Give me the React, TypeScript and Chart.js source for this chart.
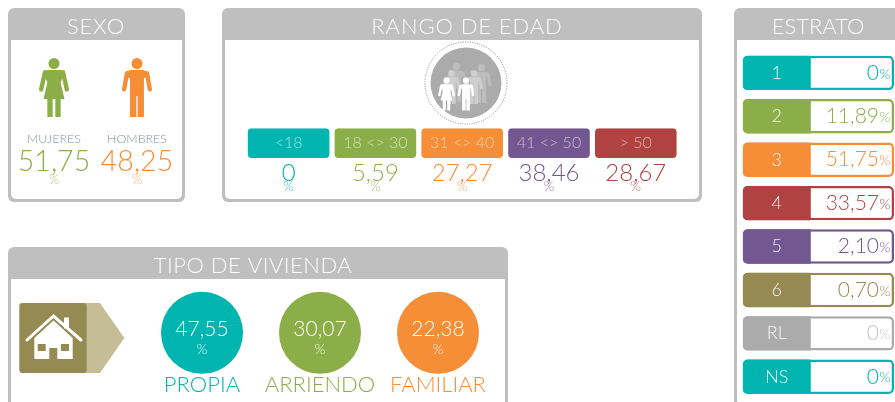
import React, { useEffect, useRef } from "react";
import { Chart, registerables } from "chart.js";

Chart.register(...registerables);

// ---------- data ----------
const sexCategories = ["MUJERES", "HOMBRES"];
const sexValues = [51.75, 48.25];
const ageCategories = ["<18", "18 <> 30", "31 <> 40", "41 <> 50", "> 50"];
const ageValues = [0, 5.59, 27.27, 38.46, 28.67];
const stratumCategories = ["1", "2", "3", "4", "5", "6", "RL", "NS"];
const stratumValues = [0, 11.89, 51.75, 33.57, 2.1, 0.7, 0, 0];
const housingCategories = ["PROPIA", "ARRIENDO", "FAMILIAR"];
const housingValues = [47.55, 30.07, 22.38];

// ---------- style ----------
const TEAL = "#00b5b0";
const GREEN = "#8cae48";
const ORANGE = "#f68e37";
const RED = "#b04241";
const PURPLE = "#725790";
const OLIVE = "#958a52";
const GREY = "#ababab";
const sexColors = [GREEN, ORANGE];
const ageColors = [TEAL, GREEN, ORANGE, PURPLE, RED];
const stratumColors = [TEAL, GREEN, ORANGE, RED, PURPLE, OLIVE, GREY, TEAL];
const housingColors = [TEAL, GREEN, ORANGE];
const stratumValueColors = [TEAL, GREEN, ORANGE, RED, PURPLE, OLIVE, "#c4c4c4", TEAL];
const FRAME = "#bfbfbf";
const FONT = "Lato";

const fmt = (v: number) => (v === 0 ? "0" : v.toFixed(2).replace(".", ","));

function txt(
  ctx: CanvasRenderingContext2D,
  s: string,
  x: number,
  y: number,
  size: number,
  color: string,
  opts: { align?: CanvasTextAlign; alpha?: number; spacing?: number; weight?: number } = {}
) {
  ctx.save();
  ctx.font = `${opts.weight ?? 300} ${size}px ${FONT}`;
  ctx.textAlign = opts.align ?? "center";
  ctx.textBaseline = "middle";
  ctx.fillStyle = color;
  ctx.globalAlpha = opts.alpha ?? 1;
  (ctx as any).letterSpacing = `${opts.spacing ?? 0}px`;
  ctx.fillText(s, x, y);
  ctx.restore();
}

function framePlugin(title: string, w: number, h: number, titleX: number, spacing: number) {
  return {
    id: "frame",
    beforeDraw(chart: any) {
      const ctx: CanvasRenderingContext2D = chart.ctx;
      ctx.save();
      ctx.fillStyle = FRAME;
      ctx.beginPath();
      ctx.roundRect(0, 0, w, h, 6);
      ctx.fill();
      ctx.fillStyle = "#ffffff";
      ctx.beginPath();
      ctx.roundRect(3, 32, w - 6, h - 35, [1, 1, 5, 5]);
      ctx.fill();
      ctx.restore();
      txt(ctx, title, titleX, 19, 22, "#ffffff", { spacing, alpha: 0.95 });
    },
  };
}

// A standing figure, drawn in a 62-high box with its top at `top`.
function figure(
  ctx: CanvasRenderingContext2D,
  kind: "f" | "m",
  cx: number,
  top: number,
  height: number,
  color: string
) {
  const k = height / 62;
  ctx.save();
  ctx.translate(cx, top);
  ctx.scale(k, k);
  ctx.fillStyle = color;
  ctx.strokeStyle = color;
  ctx.lineCap = "round";
  ctx.lineJoin = "round";
  ctx.beginPath();
  ctx.arc(0, 5.8, 5.8, 0, Math.PI * 2);
  ctx.fill();
  ctx.lineWidth = 4.6;
  if (kind === "f") {
    ctx.beginPath();
    ctx.moveTo(-9.5, 15);
    ctx.lineTo(-13.5, 33);
    ctx.moveTo(9.5, 15);
    ctx.lineTo(13.5, 33);
    ctx.stroke();
    ctx.beginPath();
    ctx.moveTo(-8, 12.5);
    ctx.lineTo(8, 12.5);
    ctx.lineTo(10, 18);
    ctx.lineTo(7, 26);
    ctx.lineTo(11, 43);
    ctx.lineTo(-11, 43);
    ctx.lineTo(-7, 26);
    ctx.lineTo(-10, 18);
    ctx.closePath();
    ctx.fill();
    ctx.fillRect(-7, 42, 5.6, 20);
    ctx.fillRect(1.4, 42, 5.6, 20);
  } else {
    ctx.beginPath();
    ctx.moveTo(-10.5, 16);
    ctx.lineTo(-13.5, 33);
    ctx.moveTo(10.5, 16);
    ctx.lineTo(13.5, 33);
    ctx.stroke();
    ctx.beginPath();
    ctx.roundRect(-10.5, 12.5, 21, 9, 5);
    ctx.fill();
    ctx.fillRect(-7.3, 16, 14.6, 24);
    ctx.fillRect(-7.3, 38, 6.6, 24);
    ctx.fillRect(0.7, 38, 6.6, 24);
  }
  ctx.restore();
}

function house(ctx: CanvasRenderingContext2D) {
  ctx.save();
  const y = 56;
  ctx.fillStyle = "#c5bd96";
  ctx.beginPath();
  ctx.moveTo(70, y);
  ctx.lineTo(92, y);
  ctx.lineTo(116.3, y + 35);
  ctx.lineTo(92, y + 70);
  ctx.lineTo(70, y + 70);
  ctx.closePath();
  ctx.fill();
  ctx.fillStyle = OLIVE;
  ctx.beginPath();
  ctx.roundRect(11.3, y, 67.4, 70, 3);
  ctx.fill();
  ctx.fillStyle = "#fff";
  ctx.strokeStyle = "#fff";
  ctx.fillRect(56, y + 14.5, 5, 11);
  ctx.lineWidth = 3;
  ctx.lineCap = "round";
  ctx.beginPath();
  ctx.moveTo(19, y + 37);
  ctx.lineTo(45.5, y + 13);
  ctx.lineTo(73, y + 37);
  ctx.stroke();
  ctx.beginPath();
  ctx.moveTo(26.3, y + 35);
  ctx.lineTo(45.5, y + 17.5);
  ctx.lineTo(64.7, y + 35);
  ctx.lineTo(64.7, y + 56);
  ctx.lineTo(26.3, y + 56);
  ctx.closePath();
  ctx.fill();
  ctx.fillStyle = OLIVE;
  ctx.fillRect(29.7, y + 41, 8, 7);
  ctx.fillRect(53, y + 41, 8, 7);
  ctx.fillRect(41.3, y + 45, 8, 11);
  ctx.restore();
}

const baseOptions = {
  responsive: false,
  animation: false as const,
  events: [] as any[],
  plugins: { legend: { display: false }, tooltip: { enabled: false }, title: { display: false } },
};

const noSidePadding = (scale: any) => {
  scale.paddingLeft = 0;
  scale.paddingRight = 0;
};

function makeCharts(c: (HTMLCanvasElement | null)[]) {
  const charts: Chart[] = [];

  // SEXO
  charts.push(
    new Chart(c[0]!, {
      type: "line",
      data: {
        labels: sexCategories,
        datasets: [{ data: sexValues, showLine: false, pointRadius: 0 }],
      },
      options: {
        ...baseOptions,
        layout: { autoPadding: false, padding: { left: 4.5, right: 6.5, top: 50, bottom: 40.5 } },
        scales: {
          x: {
            offset: true,
            afterFit: noSidePadding,
            grid: { display: false, drawTicks: false },
            border: { display: false },
            ticks: {
              padding: 16,
              color: "#8a8f9f",
              maxRotation: 0,
              autoSkip: false,
              font: { family: FONT, size: 12.5, weight: 300, lineHeight: 1 },
            },
          },
          y: { display: false, min: -1e5, max: 1e5 },
        },
      } as any,
      plugins: [
        framePlugin("SEXO", 177, 194, 88, 0.7),
        {
          id: "sex",
          afterDatasetsDraw(chart: any) {
            const ctx = chart.ctx;
            const { top, bottom } = chart.chartArea;
            sexValues.forEach((v, i) => {
              const x = chart.scales.x.getPixelForValue(i);
              figure(ctx, i === 0 ? "f" : "m", x, top, bottom - top, sexColors[i]);
              txt(ctx, fmt(v), x, bottom + 45, 28.5, sexColors[i]);
              txt(ctx, "%", x, bottom + 63, 13, sexColors[i], { alpha: 0.7 });
            });
          },
        },
      ],
    } as any)
  );

  // RANGO DE EDAD
  charts.push(
    new Chart(c[1]!, {
      type: "bar",
      data: {
        labels: ageCategories,
        datasets: [
          {
            data: ageCategories.map(() => 1),
            backgroundColor: ageColors,
            borderRadius: 4,
            borderSkipped: false,
            borderWidth: 0,
            categoryPercentage: 1,
            barPercentage: 0.94,
          },
        ],
      },
      options: {
        ...baseOptions,
        layout: { autoPadding: false, padding: { left: 23.2, right: 22.8, top: 120.3, bottom: 44 } },
        scales: {
          x: { display: false },
          y: { display: false, min: 0, max: 1 },
        },
      } as any,
      plugins: [
        framePlugin("RANGO DE EDAD", 480, 194, 245, 0.9),
        {
          id: "age",
          afterDatasetsDraw(chart: any) {
            const ctx: CanvasRenderingContext2D = chart.ctx;
            const { top, bottom } = chart.chartArea;
            const els = chart.getDatasetMeta(0).data;
            ageValues.forEach((v, i) => {
              const x = els[i].x;
              txt(ctx, ageCategories[i], x, (top + bottom) / 2, 16, "#ffffff", { alpha: 0.6 });
              txt(ctx, fmt(v), x, bottom + 15, 24, ageColors[i]);
              txt(ctx, "%", x, bottom + 29, 13.5, ageColors[i], { alpha: 0.75 });
            });
            // people emblem
            const cx = 244;
            const cy = 75;
            ctx.save();
            ctx.strokeStyle = "#8a8a8a";
            ctx.lineWidth = 1;
            ctx.setLineDash([1, 1.4]);
            ctx.beginPath();
            ctx.arc(cx, cy, 41, 0, Math.PI * 2);
            ctx.stroke();
            ctx.setLineDash([]);
            ctx.fillStyle = GREY;
            ctx.beginPath();
            ctx.arc(cx, cy, 35.5, 0, Math.PI * 2);
            ctx.fill();
            ctx.restore();
            figure(ctx, "m", cx - 9.5, 55, 39, "#bdbdbd");
            figure(ctx, "m", cx + 15.5, 56, 39, "#bdbdbd");
            figure(ctx, "m", cx - 14.5, 62, 34, "#cfcfcf");
            figure(ctx, "m", cx + 8, 62, 34, "#cfcfcf");
            figure(ctx, "f", cx - 19.5, 69.5, 33, "#ffffff");
            figure(ctx, "m", cx, 69.5, 33, "#ffffff");
          },
        },
      ],
    } as any)
  );

  // ESTRATO
  charts.push(
    new Chart(c[2]!, {
      type: "bar",
      data: {
        labels: stratumCategories,
        datasets: [
          {
            data: stratumCategories.map(() => 0.45),
            backgroundColor: stratumColors,
            borderRadius: { topLeft: 5, bottomLeft: 5, topRight: 1, bottomRight: 1 },
            borderSkipped: false,
            borderWidth: 0,
          },
          {
            data: stratumCategories.map(() => 1),
            backgroundColor: "#ffffff",
            borderColor: stratumColors,
            borderWidth: 2.5,
            borderRadius: 5,
            borderSkipped: false,
          },
        ],
      },
      options: {
        ...baseOptions,
        indexAxis: "y",
        datasets: { bar: { grouped: false, categoryPercentage: 1, barPercentage: 0.793 } },
        layout: { autoPadding: false, padding: { left: 8.7, right: 1, top: 43.2, bottom: 3.5 } },
        scales: {
          x: { display: false, min: 0, max: 1 },
          y: { display: false },
        },
      } as any,
      plugins: [
        framePlugin("ESTRATO", 190, 400, 84, 0),
        {
          id: "stratum",
          afterDatasetsDraw(chart: any) {
            const ctx: CanvasRenderingContext2D = chart.ctx;
            const els = chart.getDatasetMeta(0).data;
            const x = chart.scales.x;
            stratumValues.forEach((v, i) => {
              const y = els[i].y;
              txt(ctx, stratumCategories[i], x.getPixelForValue(0.225), y, 18, "#ffffff", {
                alpha: 0.9,
              });
              const right = x.getPixelForValue(1) - 3.5;
              txt(ctx, "%", right, y + 1, 14.5, stratumValueColors[i], { align: "right", alpha: 0.9 });
              txt(ctx, fmt(v), right - 11.5, y, 21, stratumValueColors[i], { align: "right" });
            });
          },
        },
      ],
    } as any)
  );

  // TIPO DE VIVIENDA
  charts.push(
    new Chart(c[3]!, {
      type: "line",
      data: {
        labels: housingCategories,
        datasets: [
          {
            data: housingValues,
            showLine: false,
            clip: false,
            pointRadius: 41,
            pointBorderWidth: 0,
            pointBackgroundColor: housingColors,
          },
        ],
      },
      options: {
        ...baseOptions,
        layout: { autoPadding: false, padding: { left: 135, right: 11, top: 45, bottom: 6.4 } },
        scales: {
          x: {
            offset: true,
            afterFit: noSidePadding,
            grid: { display: false, drawTicks: false },
            border: { display: false },
            ticks: {
              padding: 0,
              color: housingColors,
              maxRotation: 0,
              autoSkip: false,
              font: { family: FONT, size: 22, weight: 300, lineHeight: 1 },
            },
          },
          y: { display: false, min: -1e5, max: 1e5 },
        },
      } as any,
      plugins: [
        framePlugin("TIPO DE VIVIENDA", 500, 200, 245, 0.5),
        {
          id: "housing",
          afterDatasetsDraw(chart: any) {
            const ctx: CanvasRenderingContext2D = chart.ctx;
            house(ctx);
            const els = chart.getDatasetMeta(0).data;
            housingValues.forEach((v, i) => {
              txt(ctx, fmt(v), els[i].x, els[i].y - 4, 21, "#ffffff");
              txt(ctx, "%", els[i].x, els[i].y + 17, 14, "#ffffff", { alpha: 0.85 });
            });
          },
        },
      ],
    } as any)
  );

  return charts;
}

const boxes = [
  { left: 8, top: 8, width: 177, height: 194 },
  { left: 222, top: 8, width: 480, height: 194 },
  { left: 734, top: 8, width: 161, height: 394 },
  { left: 8, top: 247, width: 500, height: 155 },
];

export default function App() {
  const refs = useRef<(HTMLCanvasElement | null)[]>([]);
  useEffect(() => {
    document.body.style.margin = "0";
    const charts = makeCharts(refs.current);
    return () => charts.forEach((ch) => ch.destroy());
  }, []);
  return (
    <div style={{ position: "fixed", left: 0, top: 0, width: 895, height: 402, overflow: "hidden", background: "#fff" }}>
      {boxes.map((b, i) => (
        <canvas
          key={i}
          ref={(el) => {
            refs.current[i] = el;
          }}
          width={b.width}
          height={b.height}
          style={{ position: "absolute", left: b.left, top: b.top, width: b.width, height: b.height }}
        />
      ))}
    </div>
  );
}
